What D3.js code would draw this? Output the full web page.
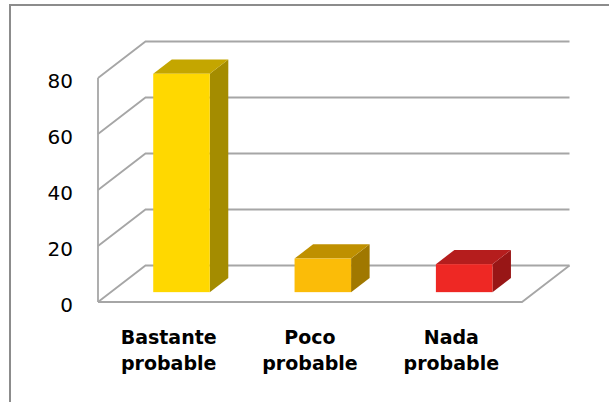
<!DOCTYPE html>
<html>
<head>
<meta charset="utf-8">
<script src="https://cdn.jsdelivr.net/npm/d3@7"></script>
<style>
  html, body { margin: 0; padding: 0; background: #fff; }
  svg { display: block; }
</style>
</head>
<body>
<svg id="chart" width="609" height="402"></svg>
<script>
// Data
const categories = [["Bastante", "probable"], ["Poco", "probable"], ["Nada", "probable"]];
const values = [78, 12, 10];
const tickValues = [0, 20, 40, 60, 80];
const faceColors = ["#FFD800", "#FBBC08", "#EE2824"];
const topColors = ["#C4A600", "#BF9000", "#B51D1D"];
const sideColors = ["#A48C00", "#A07800", "#981616"];

const svg = d3.select("#chart");

// Outer chart border (runs off the right and bottom edges)
svg.append("rect")
  .attr("x", 10).attr("y", 5).attr("width", 700).attr("height", 500)
  .attr("fill", "none").attr("stroke", "#8c8c8c").attr("stroke-width", 2);

// Front plane of the 3D box and its depth offset
const x0 = 98, x1 = 522;
const depth = { dx: 47.5, dy: -36.5 };

const x = d3.scaleBand().domain(d3.range(categories.length)).range([x0, x1]).paddingInner(0.6).paddingOuter(0.3);
const y = d3.scaleLinear().domain([0, 80]).range([302, 78]);

const gridColor = "#a6a6a6";
const grid = svg.append("g").attr("fill", "none").attr("stroke", gridColor).attr("stroke-width", 1.8);

// Back wall gridlines and side wall diagonals
tickValues.forEach(v => {
  const yf = y(v);
  grid.append("path").attr("d", `M${x0},${yf}L${x0 + depth.dx},${yf + depth.dy}L${x1 + depth.dx},${yf + depth.dy}`);
});
// Front vertical axis line
grid.append("path").attr("d", `M${x0},${y(80)}L${x0},${y(0)}`);
// Floor
grid.append("path").attr("d", `M${x0},${y(0)}L${x1},${y(0)}L${x1 + depth.dx},${y(0) + depth.dy}`);

// Bars as boxes placed in the middle of the depth
const f0 = 0.27, f1 = 0.66;
const bars = svg.append("g");
values.forEach((v, i) => {
  const bx = x(i) + f0 * depth.dx;
  const w = x.bandwidth();
  const by0 = y(0) + f0 * depth.dy;
  const h = y(0) - y(v);
  const top = by0 - h;
  const ddx = (f1 - f0) * depth.dx, ddy = (f1 - f0) * depth.dy;
  // side face
  bars.append("path")
    .attr("d", `M${bx + w},${top}L${bx + w + ddx},${top + ddy}L${bx + w + ddx},${by0 + ddy}L${bx + w},${by0}Z`)
    .attr("fill", sideColors[i]);
  // top face
  bars.append("path")
    .attr("d", `M${bx},${top}L${bx + ddx},${top + ddy}L${bx + w + ddx},${top + ddy}L${bx + w},${top}Z`)
    .attr("fill", topColors[i]);
  // front face
  bars.append("rect")
    .attr("x", bx).attr("y", top).attr("width", w).attr("height", h)
    .attr("fill", faceColors[i]);
});

// Value axis labels
svg.append("g")
  .selectAll("text")
  .data(tickValues)
  .join("text")
  .attr("x", 73)
  .attr("y", d => y(d) + 10)
  .attr("text-anchor", "end")
  .attr("font-family", "DejaVu Sans")
  .attr("font-size", 20)
  .attr("fill", "#000")
  .text(d => d);

// Category labels
const bandCenter = i => x0 + (x1 - x0) / categories.length * (i + 0.5);
const cat = svg.append("g")
  .attr("font-family", "DejaVu Sans")
  .attr("font-weight", "bold")
  .attr("font-size", 19)
  .attr("text-anchor", "middle")
  .attr("fill", "#000");
categories.forEach((lines, i) => {
  const t = cat.append("text").attr("x", bandCenter(i)).attr("y", 344);
  lines.forEach((line, j) => {
    t.append("tspan").attr("x", bandCenter(i)).attr("dy", j === 0 ? 0 : 25.5).text(line);
  });
});
</script>
</body>
</html>
